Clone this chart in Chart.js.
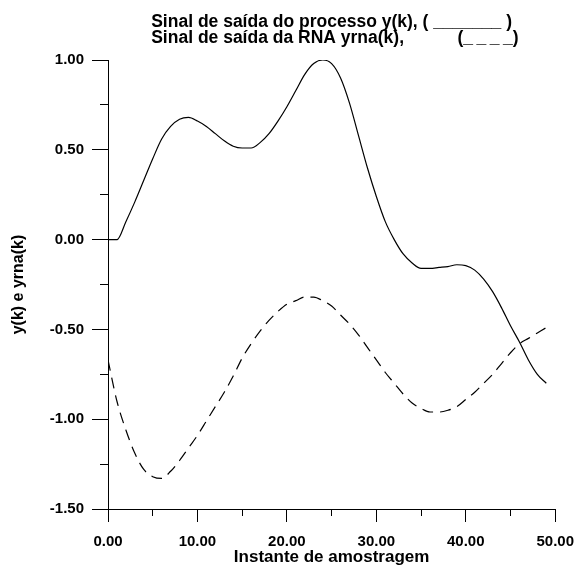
<!DOCTYPE html>
<html>
<head>
<meta charset="utf-8">
<script src="https://cdn.jsdelivr.net/npm/chart.js@4/dist/chart.umd.min.js"></script>
<style>
  body { margin: 0; background: #fff; }
  #grafico { display: block; }
</style>
</head>
<body>
<canvas id="grafico" width="585" height="571"></canvas>
<script>
// instantes de amostragem k
const instantes = [0, 1, 2, 3, 4, 5, 6, 7, 8, 9, 10, 11, 12, 13, 14, 15, 16, 17, 18, 19,
    20, 21, 22, 23, 24, 25, 26, 27, 28, 29, 30, 31, 32, 33, 34, 35, 36, 37, 38, 39,
    40, 41, 42, 43, 44, 45, 46, 47, 48, 49];

// saída do processo y(k)
const saidaProcesso = [0, 0, 0.10, 0.21, 0.33, 0.45, 0.56, 0.63, 0.67, 0.68,
    0.66, 0.63, 0.59, 0.55, 0.52, 0.51, 0.51, 0.54, 0.59, 0.66,
    0.74, 0.83, 0.92, 0.98, 1.00, 0.98, 0.90, 0.76, 0.58, 0.40,
    0.24, 0.10, 0.00, -0.08, -0.13, -0.16, -0.16, -0.155, -0.15, -0.14,
    -0.145, -0.17, -0.22, -0.29, -0.38, -0.48, -0.57, -0.67, -0.75, -0.80];

// saída da RNA yrna(k)
const saidaRNA = [-0.67, -0.90, -1.06, -1.19, -1.28, -1.32, -1.33, -1.29, -1.23, -1.16,
    -1.09, -1.01, -0.93, -0.85, -0.76, -0.66, -0.58, -0.51, -0.45, -0.40,
    -0.36, -0.34, -0.32, -0.32, -0.34, -0.37, -0.42, -0.47, -0.53, -0.60,
    -0.67, -0.74, -0.80, -0.86, -0.91, -0.94, -0.96, -0.96, -0.95, -0.93,
    -0.89, -0.85, -0.80, -0.75, -0.69, -0.63, -0.58, -0.55, -0.52, -0.49];

const linhasTitulo = [
    'Sinal de saída do processo y(k), ( _______ )',
    'Sinal de saída da RNA yrna(k),           (_\u2009_\u2009_\u2009_)'
];

const fonte = '"Liberation Sans", Arial, sans-serif';

// titulo em duas linhas, alinhadas à esquerda e centradas sobre a area do grafico
const tituloPlugin = {
    id: 'tituloLinhas',
    afterDraw(chart) {
        const { ctx, chartArea } = chart;
        const cx = (chartArea.left + chartArea.right) / 2;
        ctx.save();
        ctx.font = 'bold 17.5px ' + fonte;
        ctx.fillStyle = '#000';
        ctx.textAlign = 'left';
        ctx.textBaseline = 'alphabetic';
        const x0 = cx - ctx.measureText(linhasTitulo[0]).width / 2;
        linhasTitulo.forEach((linha, i) => ctx.fillText(linha, x0, 27 + i * 16));
        ctx.restore();
    }
};

// marca principal a cada 0.5 no eixo y
const principalY = v => Math.abs(v * 2 - Math.round(v * 2)) < 1e-6;

const ctx = document.getElementById('grafico').getContext('2d');
new Chart(ctx, {
    type: 'line',
    data: {
        datasets: [{
            label: 'y(k)',
            data: instantes.map((k, i) => ({ x: k, y: saidaProcesso[i] })),
            borderColor: '#000',
            borderWidth: 1.2,
            pointRadius: 0,
            cubicInterpolationMode: 'monotone',
            fill: false
        }, {
            label: 'yrna(k)',
            data: instantes.map((k, i) => ({ x: k, y: saidaRNA[i] })),
            borderColor: '#000',
            borderWidth: 1.2,
            borderDash: [11, 7],
            pointRadius: 0,
            cubicInterpolationMode: 'monotone',
            fill: false
        }]
    },
    options: {
        responsive: false,
        animation: false,
        layout: { padding: { top: 60, right: 21, left: 0, bottom: 0 } },
        plugins: {
            legend: { display: false },
            title: { display: false },
            tooltip: { enabled: false }
        },
        scales: {
            x: {
                type: 'linear',
                min: 0,
                max: 50,
                afterFit: s => { s.height = 62; },
                border: { display: true, color: '#000', width: 1 },
                grid: {
                    drawOnChartArea: false,
                    color: '#000',
                    tickLength: 13,
                    // ticks secundários mais curtos (desenhados a partir do eixo)
                    tickBorderDash: c => (c.tick && c.tick.value % 10 === 0) ? [] : [6, 30]
                },
                ticks: {
                    stepSize: 5,
                    autoSkip: false,
                    maxRotation: 0,
                    padding: 11,
                    color: '#000',
                    font: { family: fonte, size: 15, weight: 'bold' },
                    callback: v => v % 10 === 0 ? v.toFixed(2) : ''
                },
                title: {
                    display: true,
                    text: 'Instante de amostragem',
                    color: '#000',
                    font: { family: fonte, size: 17, weight: 'bold' },
                    padding: { top: 0, bottom: 3 }
                }
            },
            y: {
                min: -1.5,
                max: 1,
                afterFit: s => { s.width = 108; },
                border: { display: true, color: '#000', width: 1 },
                grid: {
                    drawOnChartArea: false,
                    color: '#000',
                    tickLength: 16,
                    // no eixo esquerdo o tick começa do lado de fora: pula 8px antes
                    tickBorderDash: c => (c.tick && principalY(c.tick.value)) ? [] : [0, 8, 8, 30]
                },
                ticks: {
                    stepSize: 0.25,
                    autoSkip: false,
                    padding: 8,
                    color: '#000',
                    font: { family: fonte, size: 15, weight: 'bold' },
                    callback: v => principalY(v) ? (Math.abs(v) < 1e-9 ? 0 : v).toFixed(2) : ''
                },
                title: {
                    display: true,
                    text: 'y(k) e yrna(k)',
                    color: '#000',
                    font: { family: fonte, size: 16, weight: 'bold' },
                    padding: { top: 9, bottom: 0 }
                }
            }
        }
    },
    plugins: [tituloPlugin]
});
</script>
</body>
</html>
